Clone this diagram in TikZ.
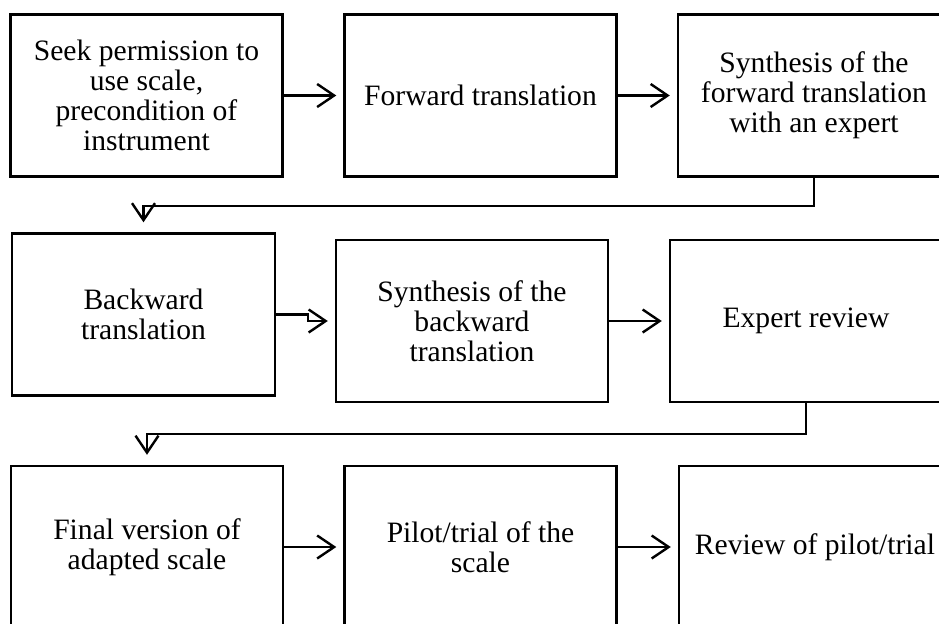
\documentclass[tikz,border=0pt]{standalone}
\usepackage{fontspec}
\setmainfont{Liberation Serif}
\usetikzlibrary{positioning,arrows.meta}

\begin{document}
\begin{tikzpicture}[x=0.5pt, y=-0.5pt,
  every node/.style={font=\fontsize{14.8}{15}\selectfont},
  stepbox/.style={draw, line width=1.2pt, align=center, minimum height=81pt, minimum width=136pt, inner sep=2pt},
  link/.style={line width=1.2pt, -{Straight Barb[length=8.5pt,width=11.5pt]}, shorten >=3.5pt},
  turn/.style={link, shorten >=5pt}]
  \useasboundingbox (0,0) rectangle (939,623);
  \clip (0,0) rectangle (939,623);

  \coordinate (pSeek)  at (146.5,95.5);
  \coordinate (pFwd)   at (480.5,95.5);
  \coordinate (pSynF)  at (814,95.5);
  \coordinate (pBwd)   at (143.5,314.5);
  \coordinate (pSynB)  at (472,321);
  \coordinate (pExp)   at (806,321);
  \coordinate (pFinal) at (147,547);
  \coordinate (pPilot) at (480.5,547);
  \coordinate (pRev)   at (815,547);

  \node[stepbox] (seek)  at (pSeek)  {Seek permission to\\use scale,\\precondition of\\instrument};
  \node[stepbox] (fwd)   at (pFwd)   {Forward translation};
  \node[stepbox] (synF)  at (pSynF)  {Synthesis of the\\forward translation\\with an expert};
  \node[stepbox, minimum width=131.5pt] (bwd) at (pBwd) {Backward\\translation};
  \node[stepbox] (synB)  at (pSynB)  {Synthesis of the\\backward\\translation};
  \node[stepbox] (exp)   at (pExp)   {Expert review};
  \node[stepbox] (final) at (pFinal) {Final version of\\adapted scale};
  \node[stepbox] (pilot) at (pPilot) {Pilot/trial of the\\scale};
  \node[stepbox] (rev)   at (pRev)   {Review of pilot/trial};

  \draw[link] (seek)--(fwd);
  \draw[link] (fwd)--(synF);
  \draw[turn] (synF.south) -- ++(0,28) -| (bwd.north);
  \draw[link] (bwd.east) -- ++(32,0) |- (synB.west);
  \draw[link] (synB)--(exp);
  \draw[turn] (exp.south) -- ++(0,31) -| (final.north);
  \draw[link] (final)--(pilot);
  \draw[link] (pilot)--(rev);
\end{tikzpicture}
\end{document}
